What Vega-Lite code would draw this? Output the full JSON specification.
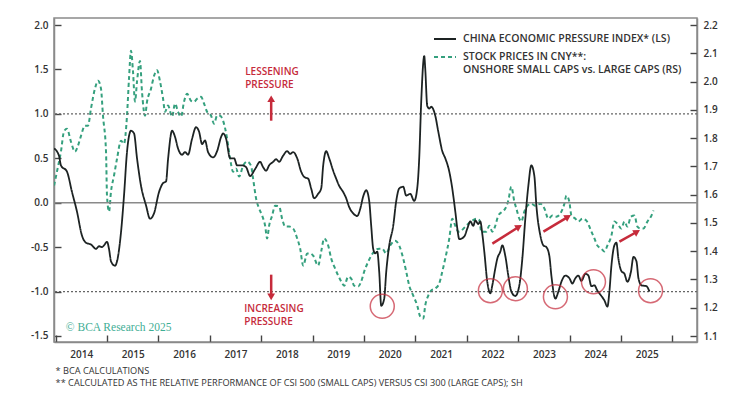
{
  "$schema": "https://vega.github.io/schema/vega-lite/v6.json",
  "width": 643,
  "height": 324,
  "autosize": {"type": "none"},
  "padding": {"left": 54, "top": 18, "right": 53, "bottom": 56},
  "background": "white",
  "config": {
    "view": {"stroke": "#8a8a8a", "strokeWidth": 1.5},
    "font": "Open Sans",
    "axis": {
      "domainColor": "#8a8a8a",
      "domainWidth": 1.5,
      "tickColor": "#444444",
      "tickWidth": 1.4,
      "tickSize": -7,
      "labelFont": "Open Sans",
      "labelFontSize": 10,
      "labelFontWeight": 600,
      "labelColor": "#333333",
      "grid": false,
      "title": null
    }
  },
  "title": {
    "text": ["* BCA CALCULATIONS", "** CALCULATED AS THE RELATIVE PERFORMANCE OF CSI 500 (SMALL CAPS) VERSUS CSI 300 (LARGE CAPS); SH"],
    "orient": "bottom",
    "anchor": "start",
    "font": "Open Sans",
    "fontSize": 9.2,
    "fontWeight": 500,
    "color": "#333333",
    "lineHeight": 12,
    "offset": 8,
    "dx": 25
  },
  "datasets": {
    "idx": [
      {"t": 2013.97, "v": 0.61}, {"t": 2014.065, "v": 0.53}, {"t": 2014.104, "v": 0.42}, {"t": 2014.221, "v": 0.35},
      {"t": 2014.319, "v": 0.12}, {"t": 2014.416, "v": -0.10}, {"t": 2014.513, "v": -0.37}, {"t": 2014.591, "v": -0.45},
      {"t": 2014.688, "v": -0.47}, {"t": 2014.786, "v": -0.52}, {"t": 2014.844, "v": -0.49}, {"t": 2014.903, "v": -0.50},
      {"t": 2014.942, "v": -0.48}, {"t": 2015.0, "v": -0.44}, {"t": 2015.039, "v": -0.52}, {"t": 2015.078, "v": -0.66},
      {"t": 2015.156, "v": -0.71}, {"t": 2015.195, "v": -0.66}, {"t": 2015.273, "v": -0.33}, {"t": 2015.331, "v": 0.08},
      {"t": 2015.389, "v": 0.57}, {"t": 2015.467, "v": 0.81}, {"t": 2015.526, "v": 0.78}, {"t": 2015.584, "v": 0.50},
      {"t": 2015.662, "v": 0.19}, {"t": 2015.759, "v": -0.03}, {"t": 2015.837, "v": -0.18}, {"t": 2015.915, "v": -0.12},
      {"t": 2016.012, "v": 0.12}, {"t": 2016.09, "v": 0.22}, {"t": 2016.149, "v": 0.24}, {"t": 2016.188, "v": 0.49},
      {"t": 2016.266, "v": 0.81}, {"t": 2016.324, "v": 0.74}, {"t": 2016.382, "v": 0.61}, {"t": 2016.46, "v": 0.54},
      {"t": 2016.519, "v": 0.57}, {"t": 2016.577, "v": 0.54}, {"t": 2016.655, "v": 0.72}, {"t": 2016.733, "v": 0.85},
      {"t": 2016.791, "v": 0.80}, {"t": 2016.85, "v": 0.66}, {"t": 2016.908, "v": 0.70}, {"t": 2016.966, "v": 0.57},
      {"t": 2017.064, "v": 0.51}, {"t": 2017.142, "v": 0.58}, {"t": 2017.22, "v": 0.74}, {"t": 2017.259, "v": 0.78},
      {"t": 2017.317, "v": 0.72}, {"t": 2017.395, "v": 0.50}, {"t": 2017.473, "v": 0.50}, {"t": 2017.531, "v": 0.42},
      {"t": 2017.628, "v": 0.42}, {"t": 2017.706, "v": 0.40}, {"t": 2017.784, "v": 0.30}, {"t": 2017.882, "v": 0.38},
      {"t": 2017.979, "v": 0.46}, {"t": 2018.037, "v": 0.40}, {"t": 2018.096, "v": 0.36}, {"t": 2018.154, "v": 0.42},
      {"t": 2018.232, "v": 0.46}, {"t": 2018.291, "v": 0.49}, {"t": 2018.349, "v": 0.46}, {"t": 2018.427, "v": 0.53},
      {"t": 2018.505, "v": 0.58}, {"t": 2018.563, "v": 0.55}, {"t": 2018.622, "v": 0.57}, {"t": 2018.7, "v": 0.50},
      {"t": 2018.777, "v": 0.35}, {"t": 2018.836, "v": 0.29}, {"t": 2018.914, "v": 0.27}, {"t": 2018.972, "v": 0.16},
      {"t": 2019.03, "v": 0.05}, {"t": 2019.108, "v": 0.10}, {"t": 2019.167, "v": 0.16}, {"t": 2019.206, "v": 0.42},
      {"t": 2019.264, "v": 0.58}, {"t": 2019.322, "v": 0.50}, {"t": 2019.4, "v": 0.36}, {"t": 2019.459, "v": 0.27},
      {"t": 2019.517, "v": 0.19}, {"t": 2019.595, "v": 0.12}, {"t": 2019.653, "v": 0.05}, {"t": 2019.712, "v": -0.05},
      {"t": 2019.79, "v": -0.12}, {"t": 2019.868, "v": -0.15}, {"t": 2019.926, "v": -0.07}, {"t": 2019.984, "v": 0.07},
      {"t": 2020.043, "v": 0.14}, {"t": 2020.101, "v": 0.02}, {"t": 2020.14, "v": -0.26}, {"t": 2020.179, "v": -0.52},
      {"t": 2020.218, "v": -0.57}, {"t": 2020.257, "v": -0.55}, {"t": 2020.296, "v": -0.78}, {"t": 2020.335, "v": -1.16},
      {"t": 2020.393, "v": -1.08}, {"t": 2020.432, "v": -0.78}, {"t": 2020.491, "v": -0.48}, {"t": 2020.568, "v": -0.26},
      {"t": 2020.627, "v": 0.02}, {"t": 2020.685, "v": 0.16}, {"t": 2020.763, "v": 0.18}, {"t": 2020.821, "v": 0.08},
      {"t": 2020.899, "v": 0.10}, {"t": 2020.977, "v": 0.02}, {"t": 2021.035, "v": 0.16}, {"t": 2021.074, "v": 0.50},
      {"t": 2021.113, "v": 1.14}, {"t": 2021.172, "v": 1.65}, {"t": 2021.191, "v": 1.51}, {"t": 2021.23, "v": 1.09},
      {"t": 2021.269, "v": 1.06}, {"t": 2021.308, "v": 1.08}, {"t": 2021.386, "v": 0.98}, {"t": 2021.445, "v": 0.80},
      {"t": 2021.523, "v": 0.58}, {"t": 2021.581, "v": 0.50}, {"t": 2021.659, "v": 0.35}, {"t": 2021.717, "v": 0.16},
      {"t": 2021.776, "v": -0.10}, {"t": 2021.815, "v": -0.29}, {"t": 2021.854, "v": -0.41}, {"t": 2021.951, "v": -0.38},
      {"t": 2022.01, "v": -0.29}, {"t": 2022.068, "v": -0.21}, {"t": 2022.126, "v": -0.26}, {"t": 2022.165, "v": -0.20},
      {"t": 2022.224, "v": -0.24}, {"t": 2022.262, "v": -0.21}, {"t": 2022.301, "v": -0.35}, {"t": 2022.34, "v": -0.55},
      {"t": 2022.398, "v": -0.89}, {"t": 2022.457, "v": -1.02}, {"t": 2022.496, "v": -0.93}, {"t": 2022.554, "v": -0.74},
      {"t": 2022.593, "v": -0.63}, {"t": 2022.652, "v": -0.55}, {"t": 2022.691, "v": -0.48}, {"t": 2022.749, "v": -0.60},
      {"t": 2022.807, "v": -0.82}, {"t": 2022.866, "v": -1.00}, {"t": 2022.944, "v": -1.05}, {"t": 2023.022, "v": -0.93},
      {"t": 2023.08, "v": -0.63}, {"t": 2023.138, "v": -0.18}, {"t": 2023.197, "v": 0.19}, {"t": 2023.255, "v": 0.42},
      {"t": 2023.314, "v": 0.30}, {"t": 2023.353, "v": -0.03}, {"t": 2023.431, "v": -0.37}, {"t": 2023.489, "v": -0.48},
      {"t": 2023.547, "v": -0.50}, {"t": 2023.606, "v": -0.60}, {"t": 2023.645, "v": -0.82}, {"t": 2023.723, "v": -1.08},
      {"t": 2023.781, "v": -1.00}, {"t": 2023.84, "v": -0.89}, {"t": 2023.917, "v": -0.82}, {"t": 2023.995, "v": -0.85},
      {"t": 2024.054, "v": -0.91}, {"t": 2024.112, "v": -0.85}, {"t": 2024.17, "v": -0.82}, {"t": 2024.229, "v": -0.88},
      {"t": 2024.307, "v": -0.80}, {"t": 2024.365, "v": -0.82}, {"t": 2024.424, "v": -0.94}, {"t": 2024.482, "v": -0.93},
      {"t": 2024.54, "v": -0.99}, {"t": 2024.618, "v": -1.05}, {"t": 2024.677, "v": -1.10}, {"t": 2024.735, "v": -1.17},
      {"t": 2024.774, "v": -1.00}, {"t": 2024.813, "v": -0.71}, {"t": 2024.871, "v": -0.48}, {"t": 2024.91, "v": -0.45},
      {"t": 2024.949, "v": -0.63}, {"t": 2025.007, "v": -0.77}, {"t": 2025.066, "v": -0.80}, {"t": 2025.124, "v": -0.89},
      {"t": 2025.192, "v": -0.78}, {"t": 2025.242, "v": -0.61}, {"t": 2025.3, "v": -0.66}, {"t": 2025.339, "v": -0.85},
      {"t": 2025.397, "v": -0.93}, {"t": 2025.495, "v": -0.94}, {"t": 2025.553, "v": -1.00}
    ],
    "stock": [
      {"t": 2013.97, "r": 1.632}, {"t": 2014.026, "r": 1.681}, {"t": 2014.104, "r": 1.752}, {"t": 2014.163, "r": 1.823},
      {"t": 2014.221, "r": 1.833}, {"t": 2014.299, "r": 1.787}, {"t": 2014.377, "r": 1.752}, {"t": 2014.435, "r": 1.773},
      {"t": 2014.494, "r": 1.808}, {"t": 2014.572, "r": 1.844}, {"t": 2014.63, "r": 1.844}, {"t": 2014.688, "r": 1.904},
      {"t": 2014.766, "r": 1.975}, {"t": 2014.825, "r": 2.003}, {"t": 2014.883, "r": 1.975}, {"t": 2014.922, "r": 1.879},
      {"t": 2014.981, "r": 1.752}, {"t": 2015.0, "r": 1.597}, {"t": 2015.039, "r": 1.540}, {"t": 2015.078, "r": 1.611},
      {"t": 2015.136, "r": 1.667}, {"t": 2015.195, "r": 1.727}, {"t": 2015.273, "r": 1.791}, {"t": 2015.331, "r": 1.780},
      {"t": 2015.389, "r": 1.879}, {"t": 2015.428, "r": 2.010}, {"t": 2015.467, "r": 2.109}, {"t": 2015.506, "r": 2.035},
      {"t": 2015.545, "r": 1.929}, {"t": 2015.584, "r": 2.000}, {"t": 2015.642, "r": 2.073}, {"t": 2015.681, "r": 1.964},
      {"t": 2015.74, "r": 1.879}, {"t": 2015.779, "r": 1.929}, {"t": 2015.857, "r": 1.975}, {"t": 2015.915, "r": 2.02},
      {"t": 2015.974, "r": 2.04}, {"t": 2016.032, "r": 2.00}, {"t": 2016.09, "r": 1.94}, {"t": 2016.129, "r": 1.893},
      {"t": 2016.188, "r": 1.915}, {"t": 2016.266, "r": 1.876}, {"t": 2016.324, "r": 1.922}, {"t": 2016.382, "r": 1.893},
      {"t": 2016.441, "r": 1.876}, {"t": 2016.499, "r": 1.929}, {"t": 2016.558, "r": 1.957}, {"t": 2016.635, "r": 1.932},
      {"t": 2016.694, "r": 1.929}, {"t": 2016.752, "r": 1.939}, {"t": 2016.83, "r": 1.946}, {"t": 2016.888, "r": 1.922},
      {"t": 2016.947, "r": 1.893}, {"t": 2017.025, "r": 1.879}, {"t": 2017.083, "r": 1.851}, {"t": 2017.142, "r": 1.879},
      {"t": 2017.201, "r": 1.879}, {"t": 2017.259, "r": 1.861}, {"t": 2017.337, "r": 1.798}, {"t": 2017.395, "r": 1.727},
      {"t": 2017.453, "r": 1.681}, {"t": 2017.512, "r": 1.692}, {"t": 2017.57, "r": 1.664}, {"t": 2017.648, "r": 1.702},
      {"t": 2017.725, "r": 1.717}, {"t": 2017.803, "r": 1.702}, {"t": 2017.842, "r": 1.657}, {"t": 2017.901, "r": 1.586},
      {"t": 2017.959, "r": 1.551}, {"t": 2018.018, "r": 1.526}, {"t": 2018.076, "r": 1.490}, {"t": 2018.115, "r": 1.445},
      {"t": 2018.154, "r": 1.490}, {"t": 2018.213, "r": 1.526}, {"t": 2018.271, "r": 1.561}, {"t": 2018.349, "r": 1.558},
      {"t": 2018.407, "r": 1.515}, {"t": 2018.466, "r": 1.487}, {"t": 2018.544, "r": 1.487}, {"t": 2018.622, "r": 1.480},
      {"t": 2018.7, "r": 1.445}, {"t": 2018.758, "r": 1.409}, {"t": 2018.817, "r": 1.349}, {"t": 2018.895, "r": 1.392},
      {"t": 2018.953, "r": 1.392}, {"t": 2019.011, "r": 1.384}, {"t": 2019.108, "r": 1.349}, {"t": 2019.167, "r": 1.399},
      {"t": 2019.225, "r": 1.445}, {"t": 2019.303, "r": 1.420}, {"t": 2019.362, "r": 1.374}, {"t": 2019.42, "r": 1.346},
      {"t": 2019.498, "r": 1.314}, {"t": 2019.556, "r": 1.293}, {"t": 2019.615, "r": 1.278}, {"t": 2019.693, "r": 1.310},
      {"t": 2019.751, "r": 1.303}, {"t": 2019.809, "r": 1.278}, {"t": 2019.887, "r": 1.275}, {"t": 2019.946, "r": 1.293},
      {"t": 2020.004, "r": 1.328}, {"t": 2020.082, "r": 1.363}, {"t": 2020.14, "r": 1.384}, {"t": 2020.198, "r": 1.399},
      {"t": 2020.296, "r": 1.409}, {"t": 2020.354, "r": 1.409}, {"t": 2020.432, "r": 1.392}, {"t": 2020.51, "r": 1.420},
      {"t": 2020.607, "r": 1.437}, {"t": 2020.685, "r": 1.420}, {"t": 2020.763, "r": 1.374}, {"t": 2020.821, "r": 1.328},
      {"t": 2020.88, "r": 1.278}, {"t": 2020.958, "r": 1.243}, {"t": 2021.035, "r": 1.208}, {"t": 2021.094, "r": 1.169},
      {"t": 2021.153, "r": 1.162}, {"t": 2021.191, "r": 1.208}, {"t": 2021.25, "r": 1.243}, {"t": 2021.308, "r": 1.261},
      {"t": 2021.386, "r": 1.268}, {"t": 2021.464, "r": 1.286}, {"t": 2021.523, "r": 1.328}, {"t": 2021.581, "r": 1.374},
      {"t": 2021.659, "r": 1.445}, {"t": 2021.717, "r": 1.515}, {"t": 2021.776, "r": 1.490}, {"t": 2021.834, "r": 1.469},
      {"t": 2021.893, "r": 1.473}, {"t": 2021.971, "r": 1.487}, {"t": 2022.029, "r": 1.497}, {"t": 2022.107, "r": 1.508},
      {"t": 2022.185, "r": 1.515}, {"t": 2022.243, "r": 1.510}, {"t": 2022.282, "r": 1.469}, {"t": 2022.379, "r": 1.469},
      {"t": 2022.437, "r": 1.490}, {"t": 2022.496, "r": 1.469}, {"t": 2022.554, "r": 1.490}, {"t": 2022.613, "r": 1.526},
      {"t": 2022.691, "r": 1.540}, {"t": 2022.749, "r": 1.551}, {"t": 2022.807, "r": 1.579}, {"t": 2022.866, "r": 1.628},
      {"t": 2022.925, "r": 1.575}, {"t": 2022.964, "r": 1.551}, {"t": 2023.022, "r": 1.515}, {"t": 2023.061, "r": 1.505},
      {"t": 2023.119, "r": 1.540}, {"t": 2023.178, "r": 1.561}, {"t": 2023.255, "r": 1.568}, {"t": 2023.333, "r": 1.561},
      {"t": 2023.431, "r": 1.568}, {"t": 2023.509, "r": 1.551}, {"t": 2023.587, "r": 1.515}, {"t": 2023.665, "r": 1.526},
      {"t": 2023.742, "r": 1.522}, {"t": 2023.84, "r": 1.540}, {"t": 2023.898, "r": 1.568}, {"t": 2023.937, "r": 1.597},
      {"t": 2023.995, "r": 1.575}, {"t": 2024.034, "r": 1.526}, {"t": 2024.112, "r": 1.515}, {"t": 2024.17, "r": 1.505},
      {"t": 2024.248, "r": 1.515}, {"t": 2024.326, "r": 1.508}, {"t": 2024.424, "r": 1.469}, {"t": 2024.482, "r": 1.445},
      {"t": 2024.54, "r": 1.420}, {"t": 2024.618, "r": 1.409}, {"t": 2024.677, "r": 1.399}, {"t": 2024.735, "r": 1.420},
      {"t": 2024.813, "r": 1.455}, {"t": 2024.871, "r": 1.505}, {"t": 2024.93, "r": 1.497}, {"t": 2025.007, "r": 1.480},
      {"t": 2025.066, "r": 1.505}, {"t": 2025.124, "r": 1.487}, {"t": 2025.192, "r": 1.522}, {"t": 2025.261, "r": 1.526},
      {"t": 2025.319, "r": 1.487}, {"t": 2025.378, "r": 1.480}, {"t": 2025.436, "r": 1.480}, {"t": 2025.514, "r": 1.505},
      {"t": 2025.592, "r": 1.526}, {"t": 2025.631, "r": 1.544}
    ],
    "dotted": [{"v": 1.0}, {"v": -1.0}],
    "zero": [{"v": 0.0}],
    "notes": [
      {"t": 2017.688, "v": 1.47, "label": "LESSENING\nPRESSURE"},
      {"t": 2017.67, "v": -1.2, "label": "INCREASING\nPRESSURE"}
    ],
    "copyright": [{"t": 2014.2, "v": -1.407, "label": "© BCA Research 2025"}],
    "circles": [
      {"t": 2020.355, "v": -1.165}, {"t": 2022.458, "v": -0.99}, {"t": 2022.945, "v": -0.968},
      {"t": 2023.724, "v": -1.058}, {"t": 2024.464, "v": -0.889}, {"t": 2025.574, "v": -0.99}
    ],
    "shafts": [
      {"t": 2022.497, "v": -0.461, "t2": 2023.015, "v2": -0.271},
      {"t": 2023.49, "v": -0.326, "t2": 2023.969, "v2": -0.159},
      {"t": 2024.969, "v": -0.439, "t2": 2025.312, "v2": -0.327},
      {"t": 2018.194, "v": 0.923, "t2": 2018.194, "v2": 1.14},
      {"t": 2018.194, "v": -0.81, "t2": 2018.194, "v2": -1.03}
    ],
    "slantHeads": [
      {"t": 2023.015, "v": -0.271}, {"t": 2023.969, "v": -0.159}, {"t": 2025.312, "v": -0.327}
    ],
    "upHeads": [{"t": 2018.194, "v": 1.17}],
    "downHeads": [{"t": 2018.194, "v": -1.06}]
  },
  "layer": [
    {
      "data": {"name": "stock"},
      "mark": {"type": "line", "strokeWidth": 2, "interpolate": "monotone", "clip": true},
      "encoding": {
        "x": {"field": "t", "type": "quantitative", "scale": {"domain": [2013.969, 2026.478], "nice": false, "zero": false},
              "axis": {"values": [2014, 2015, 2016, 2017, 2018, 2019, 2020, 2021, 2022, 2023, 2024, 2025, 2026], "labelOffset": 25.7, "labelPadding": 14, "labelExpr": "datum.value == 2026 ? '' : format(datum.value, 'd')", "title": null}},
        "y": {"field": "r", "type": "quantitative", "scale": {"domain": [1.0788, 2.2248], "nice": false, "zero": false},
              "axis": {"orient": "right", "values": [1.1, 1.2, 1.3, 1.4, 1.5, 1.6, 1.7, 1.8, 1.9, 2.0, 2.1, 2.2], "format": ".1f", "labelPadding": 13, "title": null}},
        "color": {"datum": "stock", "type": "nominal",
                  "scale": {"domain": ["idx", "stock"], "range": ["#1d2323", "#35a07e"]},
                  "legend": {"orient": "none", "legendX": 379, "legendY": 9, "symbolType": "stroke", "symbolSize": 484, "symbolStrokeWidth": 2,
                             "labelFont": "Open Sans", "labelFontSize": 10.5, "labelFontWeight": 600, "labelColor": "#333333", "labelLimit": 400,
                             "rowPadding": 0, "labelOffset": 6, "title": null,
                             "labelExpr": "datum.value == 'stock' ? ['STOCK PRICES IN CNY**:', 'ONSHORE SMALL CAPS vs. LARGE CAPS (RS)'] : 'CHINA ECONOMIC PRESSURE INDEX* (LS)'"}},
        "strokeDash": {"datum": "stock", "type": "nominal",
                       "scale": {"domain": ["idx", "stock"], "range": [[1, 0], [4, 3]]}}
      }
    },
    {
      "layer": [
        {
          "data": {"name": "zero"},
          "mark": {"type": "rule", "color": "#8a8a8a", "strokeWidth": 1.5},
          "encoding": {"y": {"field": "v", "type": "quantitative", "scale": {"domain": [-1.568, 2.079], "nice": false, "zero": false}}}
        },
        {
          "data": {"name": "dotted"},
          "mark": {"type": "rule", "color": "#666666", "strokeWidth": 1.2, "strokeDash": [2, 2]},
          "encoding": {"y": {"field": "v", "type": "quantitative", "scale": {"domain": [-1.568, 2.079], "nice": false, "zero": false}}}
        },
        {
          "data": {"name": "idx"},
          "mark": {"type": "line", "strokeWidth": 1.8, "interpolate": "monotone", "clip": true},
          "encoding": {
            "x": {"field": "t", "type": "quantitative", "scale": {"domain": [2013.969, 2026.478], "nice": false, "zero": false}},
            "y": {"field": "v", "type": "quantitative", "scale": {"domain": [-1.568, 2.079], "nice": false, "zero": false},
                  "axis": {"orient": "left", "values": [-1.5, -1.0, -0.5, 0.0, 0.5, 1.0, 1.5, 2.0], "labelPadding": 13, "labelExpr": "(datum.value < 0 ? '-' : '') + format(abs(datum.value), '.1f')", "title": null}},
            "color": {"datum": "idx", "type": "nominal"},
            "strokeDash": {"datum": "idx", "type": "nominal"}
          }
        },
        {
          "data": {"name": "circles"},
          "mark": {"type": "point", "shape": "circle", "filled": false, "stroke": "#c62b3b", "strokeWidth": 1.5, "size": 576},
          "encoding": {
            "x": {"field": "t", "type": "quantitative"},
            "y": {"field": "v", "type": "quantitative", "scale": {"domain": [-1.568, 2.079], "nice": false, "zero": false}}
          }
        },
        {
          "data": {"name": "shafts"},
          "mark": {"type": "rule", "color": "#c62b3b", "strokeWidth": 2.5},
          "encoding": {
            "x": {"field": "t", "type": "quantitative"},
            "y": {"field": "v", "type": "quantitative", "scale": {"domain": [-1.568, 2.079], "nice": false, "zero": false}},
            "x2": {"field": "t2"},
            "y2": {"field": "v2"}
          }
        },
        {
          "data": {"name": "slantHeads"},
          "mark": {"type": "point", "shape": "triangle-right", "filled": true, "color": "#c62b3b", "opacity": 1, "size": 60, "angle": -31},
          "encoding": {
            "x": {"field": "t", "type": "quantitative"},
            "y": {"field": "v", "type": "quantitative", "scale": {"domain": [-1.568, 2.079], "nice": false, "zero": false}}
          }
        },
        {
          "data": {"name": "upHeads"},
          "mark": {"type": "point", "shape": "triangle-up", "filled": true, "color": "#c62b3b", "opacity": 1, "size": 60},
          "encoding": {
            "x": {"field": "t", "type": "quantitative"},
            "y": {"field": "v", "type": "quantitative", "scale": {"domain": [-1.568, 2.079], "nice": false, "zero": false}}
          }
        },
        {
          "data": {"name": "downHeads"},
          "mark": {"type": "point", "shape": "triangle-down", "filled": true, "color": "#c62b3b", "opacity": 1, "size": 60},
          "encoding": {
            "x": {"field": "t", "type": "quantitative"},
            "y": {"field": "v", "type": "quantitative", "scale": {"domain": [-1.568, 2.079], "nice": false, "zero": false}}
          }
        },
        {
          "data": {"name": "notes"},
          "mark": {"type": "text", "align": "left", "baseline": "middle", "lineBreak": "\n", "lineHeight": 12.5, "font": "Open Sans", "fontSize": 10, "fontWeight": 600, "color": "#c62b3b"},
          "encoding": {
            "x": {"field": "t", "type": "quantitative"},
            "y": {"field": "v", "type": "quantitative", "scale": {"domain": [-1.568, 2.079], "nice": false, "zero": false}},
            "text": {"field": "label"}
          }
        },
        {
          "data": {"name": "copyright"},
          "mark": {"type": "text", "align": "left", "baseline": "middle", "font": "Liberation Serif", "fontSize": 11.5, "color": "#3fae95"},
          "encoding": {
            "x": {"field": "t", "type": "quantitative"},
            "y": {"field": "v", "type": "quantitative", "scale": {"domain": [-1.568, 2.079], "nice": false, "zero": false}},
            "text": {"field": "label"}
          }
        }
      ]
    }
  ],
  "resolve": {"scale": {"y": "independent"}, "axis": {"y": "independent"}}
}
